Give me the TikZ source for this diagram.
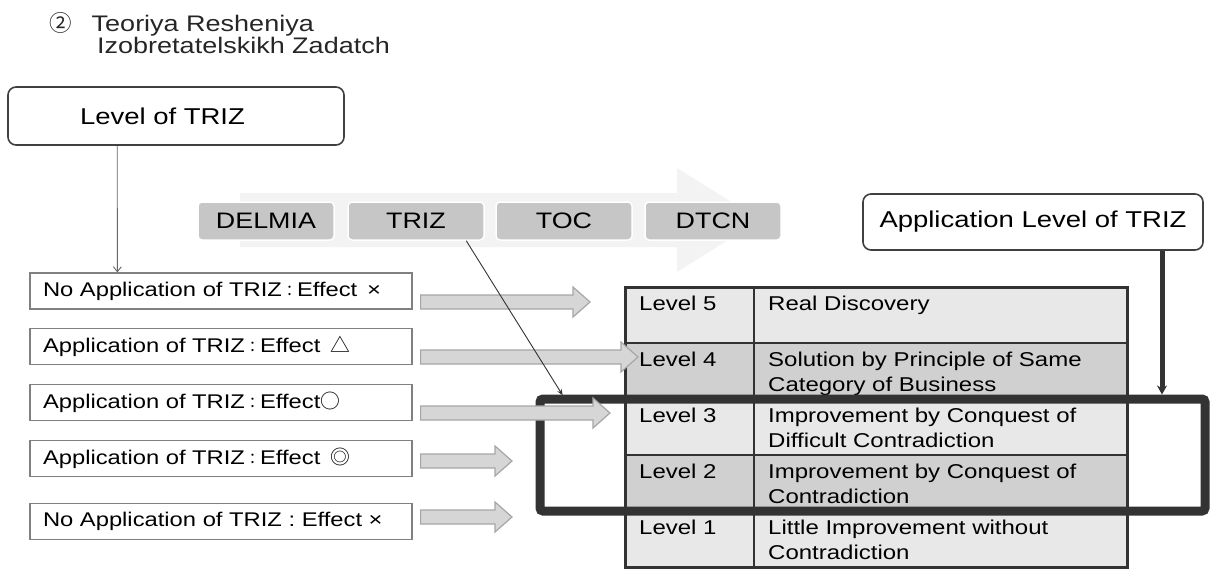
\documentclass[tikz,border=0pt]{standalone}
\usepackage{fontspec}
\setmainfont{Liberation Sans}[FakeStretch=1.2]
\newfontfamily\cjk{Noto Sans CJK JP}
\usetikzlibrary{arrows.meta,calc}

\definecolor{darkline}{HTML}{333333}
\definecolor{lightrow}{HTML}{E8E8E8}
\definecolor{darkrow}{HTML}{D0D0D0}
\definecolor{pillgray}{HTML}{C6C6C6}
\definecolor{fatfill}{HTML}{D6D6D6}
\definecolor{fatedge}{HTML}{A6A6A6}
\definecolor{bandgray}{HTML}{F3F3F3}

% wide block arrow between two points on one row
\newcommand{\fatarrow}[2]{\filldraw[fatarrow] ($(#1)+(0,-7)$) -- ($(#2)+(-17,-7)$) -- ($(#2)+(-17,-15)$) -- (#2) -- ($(#2)+(-17,15)$) -- ($(#2)+(-17,7)$) -- ($(#1)+(0,7)$) -- cycle;}
\newcommand{\jcolon}{{\cjk\fontsize{15}{15}\selectfont ：}}

\begin{document}
\begin{tikzpicture}[x=1pt, y=-1pt, inner sep=0pt]
		\tikzstyle{every node}=[align=left]
		\tikzstyle{pill}=[fill=pillgray, draw=white, line width=1.5pt, rounded corners=4pt, minimum width=136pt, minimum height=38pt, align=center, font=\fontsize{22.4}{26}\selectfont]
		\tikzstyle{headbox}=[draw=black!75, line width=1.6pt, rounded corners=8pt, fill=white, font=\fontsize{22.9}{26}\selectfont]
		\tikzstyle{effbox}=[draw=gray, line width=1.2pt, fill=white, minimum width=382pt, minimum height=36pt, text width=356pt, inner xsep=13pt, font=\fontsize{19.8}{24}\selectfont]
		\tikzstyle{fatarrow}=[fill=fatfill, draw=fatedge, line width=1.2pt]
		\tikzstyle{cell}=[draw=darkline, line width=2.5pt, minimum height=56pt, anchor=north west, outer sep=0pt]
		\tikzstyle{celltext}=[anchor=north west, inner xsep=14pt, inner ysep=9pt, font=\fontsize{20}{25}\selectfont]
		\useasboundingbox (0,0) rectangle (1210,570);

		% title
		\node[anchor=north west, font=\fontsize{22.5}{20}\selectfont, text=black!85] (title) at (49,12) {{\cjk ②}\hspace{20pt}Teoriya Resheniya\\\hspace*{48pt}Izobretatelskikh Zadatch};

		% process band
		\fill[bandgray] (240,193) -- (677,193) -- (677,168) -- (760,220) -- (677,272) -- (677,247) -- (240,247) -- cycle;
		\node[pill] (delmia) at (266,221) {DELMIA};
		\node[pill] (trizb) at (416,221) {TRIZ};
		\node[pill] (toc) at (564,221) {TOC};
		\node[pill] (dtcn) at (713,221) {DTCN};

		\node[headbox, minimum width=336pt, minimum height=58pt, text width=192pt, inner xsep=72pt] (lvl) at (176,116) {Level of TRIZ};
		\node[headbox, minimum width=340pt, minimum height=56pt, align=center] (alt) at (1033,222) {Application Level of TRIZ};

		% effects
		\node[effbox] (eff1) at (221,291) {No Application of TRIZ\jcolon Effect\enspace×};
		\node[effbox] (eff2) at (221,346.5) {Application of TRIZ\jcolon Effect\enspace{\cjk △}};
		\node[effbox] (eff3) at (221,402.5) {Application of TRIZ\jcolon Effect{\cjk ○}};
		\node[effbox] (eff4) at (221,458.5) {Application of TRIZ\jcolon Effect\enspace{\cjk ◎}};
		\node[effbox] (eff5) at (221,521.5) {No Application of TRIZ : Effect ×};
		\draw[-{Straight Barb[length=5pt,width=8pt]}, black!60, line width=0.9pt] ([xshift=110pt]lvl.south west) -- ([xshift=88pt]eff1.north west);

		% level table
		\foreach \r/\lv/\col/\desc in {0/5/lightrow/{Real Discovery}, 1/4/darkrow/{Solution by Principle of Same\\Category of Business}, 2/3/lightrow/{Improvement by Conquest of\\Difficult Contradiction}, 3/2/darkrow/{Improvement by Conquest of\\Contradiction}, 4/1/lightrow/{Little Improvement without\\Contradiction}} {
			\node[cell, fill=\col, minimum width=129pt] (lev\lv) at (625,{287+56*\r}) {};
			\node[cell, fill=\col, minimum width=373pt] (desc\lv) at (lev\lv.north east) {};
			\node[celltext] (levtxt\lv) at (lev\lv.north west) {Level \lv};
			\node[celltext] (desctxt\lv) at (desc\lv.north west) {\desc};
		}
		\draw[darkline, line width=3pt] (lev5.north west) rectangle (desc1.south east);

		\node[draw=darkline, line width=9pt, rounded corners=3pt, minimum width=665pt, minimum height=112pt, outer sep=0pt] (focus) at (872.5,455) {};

		\foreach \i/\tx/\ty in {1/590/302, 2/638/357, 3/610/413, 4/512/461, 5/512/517} {
			\coordinate (t\i) at (\tx,\ty);
			\path (eff\i.east |- t\i) ++(8,0) coordinate (s\i);
			\fatarrow{s\i}{t\i}
		}

		\draw[-{Stealth[length=6pt,width=5pt]}, darkline, line width=0.9pt, shorten >=4.5pt] ([xshift=119pt]trizb.south west) -- ([xshift=25pt]focus.north west);
		\draw[-{Stealth[length=9pt,width=10pt]}, darkline, line width=5pt, shorten >=4.5pt] (alt.south) ++(129,0) coordinate (altfoot) -- (altfoot |- focus.north);
\end{tikzpicture}
\end{document}
